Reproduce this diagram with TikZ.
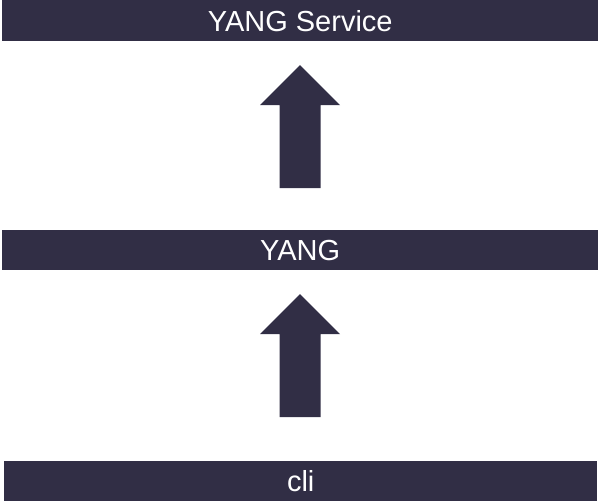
\documentclass[tikz,border=0pt]{standalone}
\usepackage{fontspec}
\setmainfont{Liberation Sans}
\definecolor{bardark}{RGB}{49,46,69}
\begin{document}
\begin{tikzpicture}[x=1pt,y=-1pt,
  bar/.style={fill=bardark, draw=none, text=white, inner sep=0pt, anchor=north west,
    minimum height=40pt, font=\fontsize{29}{34}\selectfont},
  bigarrow/.style={fill=bardark, draw=none}]
\useasboundingbox (0,0) rectangle (598,501);
\node[bar, minimum width=596pt, minimum height=41pt] (svc) at (2,0) {YANG Service};
\node[bar, minimum width=596pt] (yang) at (2,230) {YANG};
\node[bar, minimum width=593pt, minimum height=40pt] (cli) at (4,461) {cli};
% arrow cli -> yang
\fill[bigarrow] (279.5,417) -- (279.5,334) -- (260,334) -- (300,294) -- (340,334) -- (320.5,334) -- (320.5,417) -- cycle;
% arrow yang -> svc
\fill[bigarrow] (279.5,188) -- (279.5,105) -- (260,105) -- (300,65) -- (340,105) -- (320.5,105) -- (320.5,188) -- cycle;
\end{tikzpicture}
\end{document}
